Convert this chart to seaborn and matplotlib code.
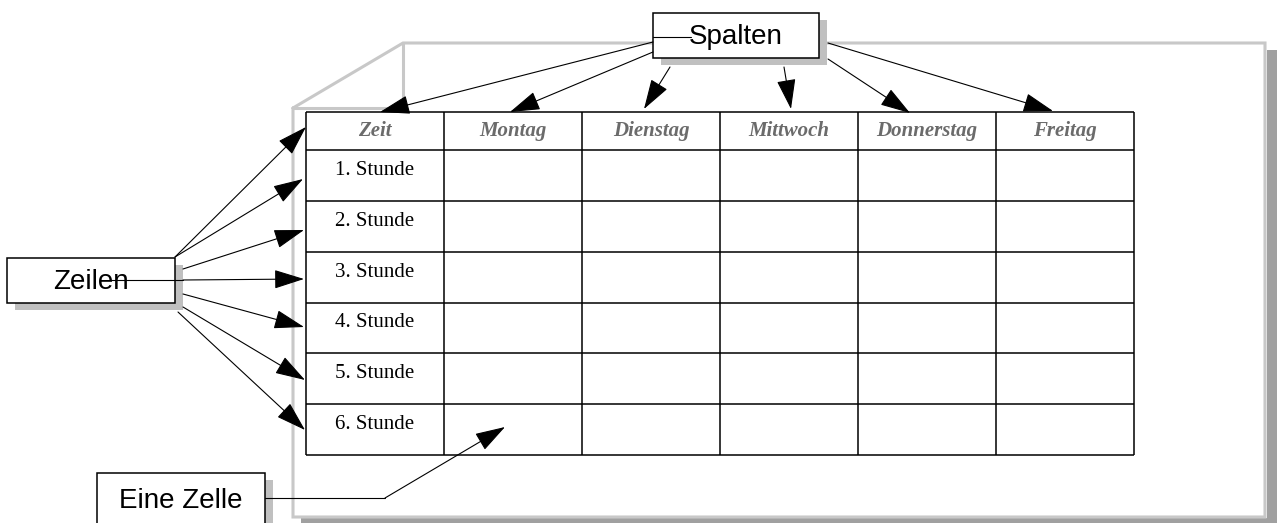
import numpy as np
import matplotlib
matplotlib.use("Agg")
import matplotlib.pyplot as plt
from matplotlib.patches import Rectangle, FancyArrowPatch
import seaborn as sns

# table content
days = ["Zeit", "Montag", "Dienstag", "Mittwoch", "Donnerstag", "Freitag"]
hours = ["1. Stunde", "2. Stunde", "3. Stunde", "4. Stunde", "5. Stunde", "6. Stunde"]
box_labels = ["Spalten", "Zeilen", "Eine Zelle"]

sns.set_theme(style="white")
plt.rcParams['font.family'] = ['Liberation Sans', 'DejaVu Sans']

W, H = 1277, 523
fig = plt.figure(figsize=(W / 100, H / 100), dpi=100)
ax = fig.add_axes([0, 0, 1, 1])
ax.set_xlim(0, W)
ax.set_ylim(H, 0)
ax.axis('off')

# table layout (pixel space)
tab_left, tab_right = 306, 1134
tab_top, head_bot, tab_bot = 112, 150, 455
col_x = np.linspace(tab_left, tab_right, len(days) + 1)
row_y = np.concatenate([[tab_top], np.linspace(head_bot, tab_bot, len(hours) + 1)])

# grey page frame with shadow
frame_col = '#c8c8c8'
ax.add_patch(Rectangle((1267, 50), 10, 473, color='#a0a0a0', zorder=1, lw=0))
ax.add_patch(Rectangle((301, 518), 976, 6, color='#a0a0a0', zorder=1, lw=0))
ax.plot([293, 293, 1265, 1265, 403, 293], [108, 517, 517, 43, 43, 108], color=frame_col, lw=2.2, zorder=2,
        solid_joinstyle='miter')
ax.plot([403, 403], [43, 110], color=frame_col, lw=2.2, zorder=2)
ax.plot([293, 403], [108, 108], color=frame_col, lw=2.2, zorder=2)

# table grid
ax.add_patch(Rectangle((tab_left, tab_top), tab_right - tab_left, tab_bot - tab_top,
                       facecolor='white', edgecolor='none', zorder=3))
ax.hlines(row_y, tab_left, tab_right, color='black', lw=1.1, zorder=4)
ax.vlines(col_x, tab_top, tab_bot, color='black', lw=1.1, zorder=4)

for i, d in enumerate(days):
    ax.text((col_x[i] + col_x[i + 1]) / 2, (tab_top + head_bot) / 2, d, ha='center', va='center',
            family='Liberation Serif', style='italic', weight='bold', fontsize=15, color='#6b6b6b', zorder=5)
for j, h in enumerate(hours):
    ax.text((col_x[0] + col_x[1]) / 2, (row_y[j + 1] + row_y[j + 2]) / 2 - 5, h, ha='center', va='center',
            family='Liberation Serif', fontsize=15, color='black', zorder=5)


def label_box(x0, y0, x1, y1, text, ty):
    ax.add_patch(Rectangle((x0 + 8, y0 + 7), x1 - x0, y1 - y0, facecolor='#c0c0c0', edgecolor='none', zorder=6))
    ax.add_patch(Rectangle((x0, y0), x1 - x0, y1 - y0, facecolor='white', edgecolor='black', lw=1.1, zorder=7))
    ax.text((x0 + x1) / 2, ty, text, ha='center', va='center', fontsize=20, color='black', zorder=8)


def arrow(p0, p1, z=9):
    ax.add_patch(FancyArrowPatch(p0, p1, arrowstyle='-|>,head_length=1.9,head_width=0.6',
                                 mutation_scale=10, color='black', lw=0.8, shrinkA=0, shrinkB=0, zorder=z))


label_box(653, 13, 819, 58, box_labels[0], 37)
label_box(7, 258, 175, 303, box_labels[1], 282)
label_box(97, 473, 265, 540, box_labels[2], 501)

# Spalten arrows
sp_starts = [(653, 42), (653, 52), (670, 67), (784, 67), (828, 59), (828, 43)]
sp_ends = [(380, 112), (510, 112), (644, 109), (791, 109), (910, 113), (1053, 111)]
for s, e in zip(sp_starts, sp_ends):
    arrow(s, e)
ax.plot([653, 691], [37, 37], color='black', lw=0.8, zorder=9)

# Zeilen arrows
ze_starts = [(175, 257), (175, 257), (183, 269), (183, 280), (183, 294), (183, 307), (178, 312)]
ze_ends = [(306, 127), (303, 179), (304, 230), (304, 279), (304, 327), (305, 380), (305, 430)]
for s, e in zip(ze_starts, ze_ends):
    arrow(s, e)
ax.plot([110, 183], [280, 280], color='black', lw=0.8, zorder=9)

# Eine Zelle connector
ax.plot([265, 385], [498, 498], color='black', lw=0.8, zorder=9)
arrow((385, 498), (505, 427))

fig.savefig('out.png', dpi=100)
